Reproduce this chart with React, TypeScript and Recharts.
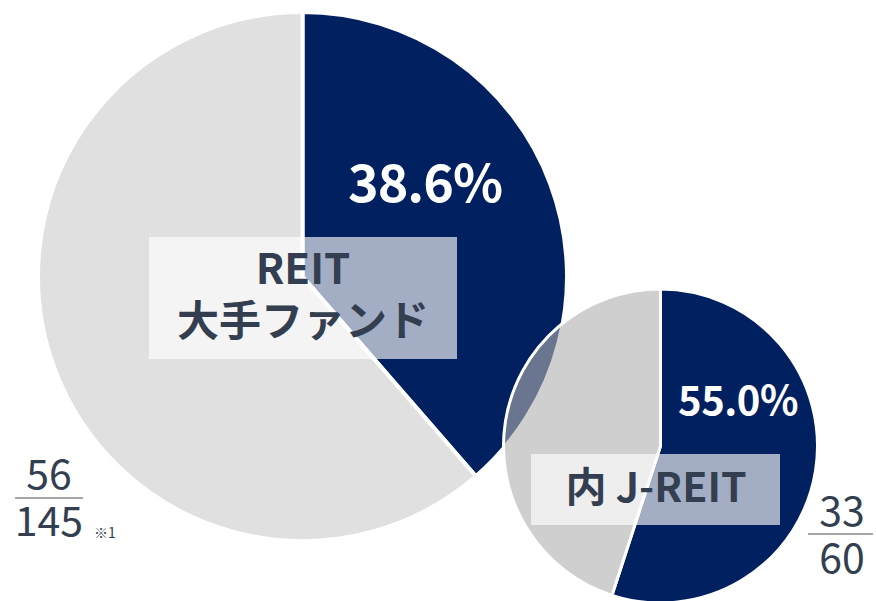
import React from 'react';
import { PieChart, Pie, Cell } from 'recharts';

const bigNames = ['REIT大手ファンド', 'その他'];
const bigValues = [56, 89];
const smallNames = ['J-REIT', 'その他'];
const smallValues = [33, 27];

const bigData = bigNames.map((name, i) => ({ name, value: bigValues[i] }));
const smallData = smallNames.map((name, i) => ({ name, value: smallValues[i] }));

const NAVY = '#002060';
const TEXT = '#333f50';
const FONT = '"Noto Sans CJK JP", "Noto Sans", sans-serif';

export default function App() {
  return (
    <div style={{ position: 'absolute', left: 0, top: 0, width: 876, height: 601, background: '#fff' }}>
      <PieChart width={876} height={601} margin={{ top: 0, right: 0, bottom: 0, left: 0 }}>
        <Pie
          data={bigData}
          dataKey="value"
          nameKey="name"
          cx={302.5}
          cy={276.5}
          innerRadius={0}
          outerRadius={264.5}
          startAngle={90}
          endAngle={-270}
          stroke="#ffffff"
          strokeWidth={4}
          isAnimationActive={false}
          labelLine={false}
        >
          <Cell fill={NAVY} />
          <Cell fill="#e0e0e0" />
        </Pie>
        <Pie
          data={smallData}
          dataKey="value"
          nameKey="name"
          cx={660.5}
          cy={446}
          innerRadius={0}
          outerRadius={157}
          startAngle={90}
          endAngle={-270}
          stroke="#ffffff"
          strokeWidth={3}
          isAnimationActive={false}
          labelLine={false}
        >
          <Cell fill={NAVY} />
          <Cell fill="#b0afaf" fillOpacity={0.6} />
        </Pie>
      </PieChart>
      <svg
        width={876}
        height={601}
        style={{ position: 'absolute', left: 0, top: 0, pointerEvents: 'none' }}
      >
        <rect x={149} y={237} width={308} height={122} fill="#ffffff" fillOpacity={0.64} />
        <text x={303} y={284} textAnchor="middle" fontFamily={FONT} fontWeight={700} fontSize={42} fill={TEXT}>REIT</text>
        <text x={303} y={336} textAnchor="middle" fontFamily={FONT} fontWeight={700} fontSize={42} fill={TEXT}>大手ファンド</text>
        <text x={425} y={202} textAnchor="middle" fontFamily={FONT} fontWeight={700} fontSize={52} letterSpacing={-1} fill="#ffffff">38.6%</text>
        <rect x={531} y={454} width={249} height={71} fill="#ffffff" fillOpacity={0.64} />
        <text x={656} y={502} textAnchor="middle" fontFamily={FONT} fontWeight={700} fontSize={41} fill={TEXT}>内 J-REIT</text>
        <text x={738} y={415} textAnchor="middle" fontFamily={FONT} fontWeight={700} fontSize={40} letterSpacing={-0.5} fill="#ffffff">55.0%</text>
        <text x={49} y={489} textAnchor="middle" fontFamily={FONT} fontSize={41} fill={TEXT}>56</text>
        <line x1={15} y1={498} x2={83} y2={498} stroke="#a6a6a6" strokeWidth={2} />
        <text x={49} y={536} textAnchor="middle" fontFamily={FONT} fontSize={41} fill={TEXT}>145</text>
        <text x={94} y={538} fontFamily={FONT} fontSize={14} fill={TEXT}>※1</text>
        <text x={842} y={526} textAnchor="middle" fontFamily={FONT} fontSize={41} fill={TEXT}>33</text>
        <line x1={808} y1={534} x2={873} y2={534} stroke="#a6a6a6" strokeWidth={2} />
        <text x={842} y={573} textAnchor="middle" fontFamily={FONT} fontSize={41} fill={TEXT}>60</text>
      </svg>
    </div>
  );
}
